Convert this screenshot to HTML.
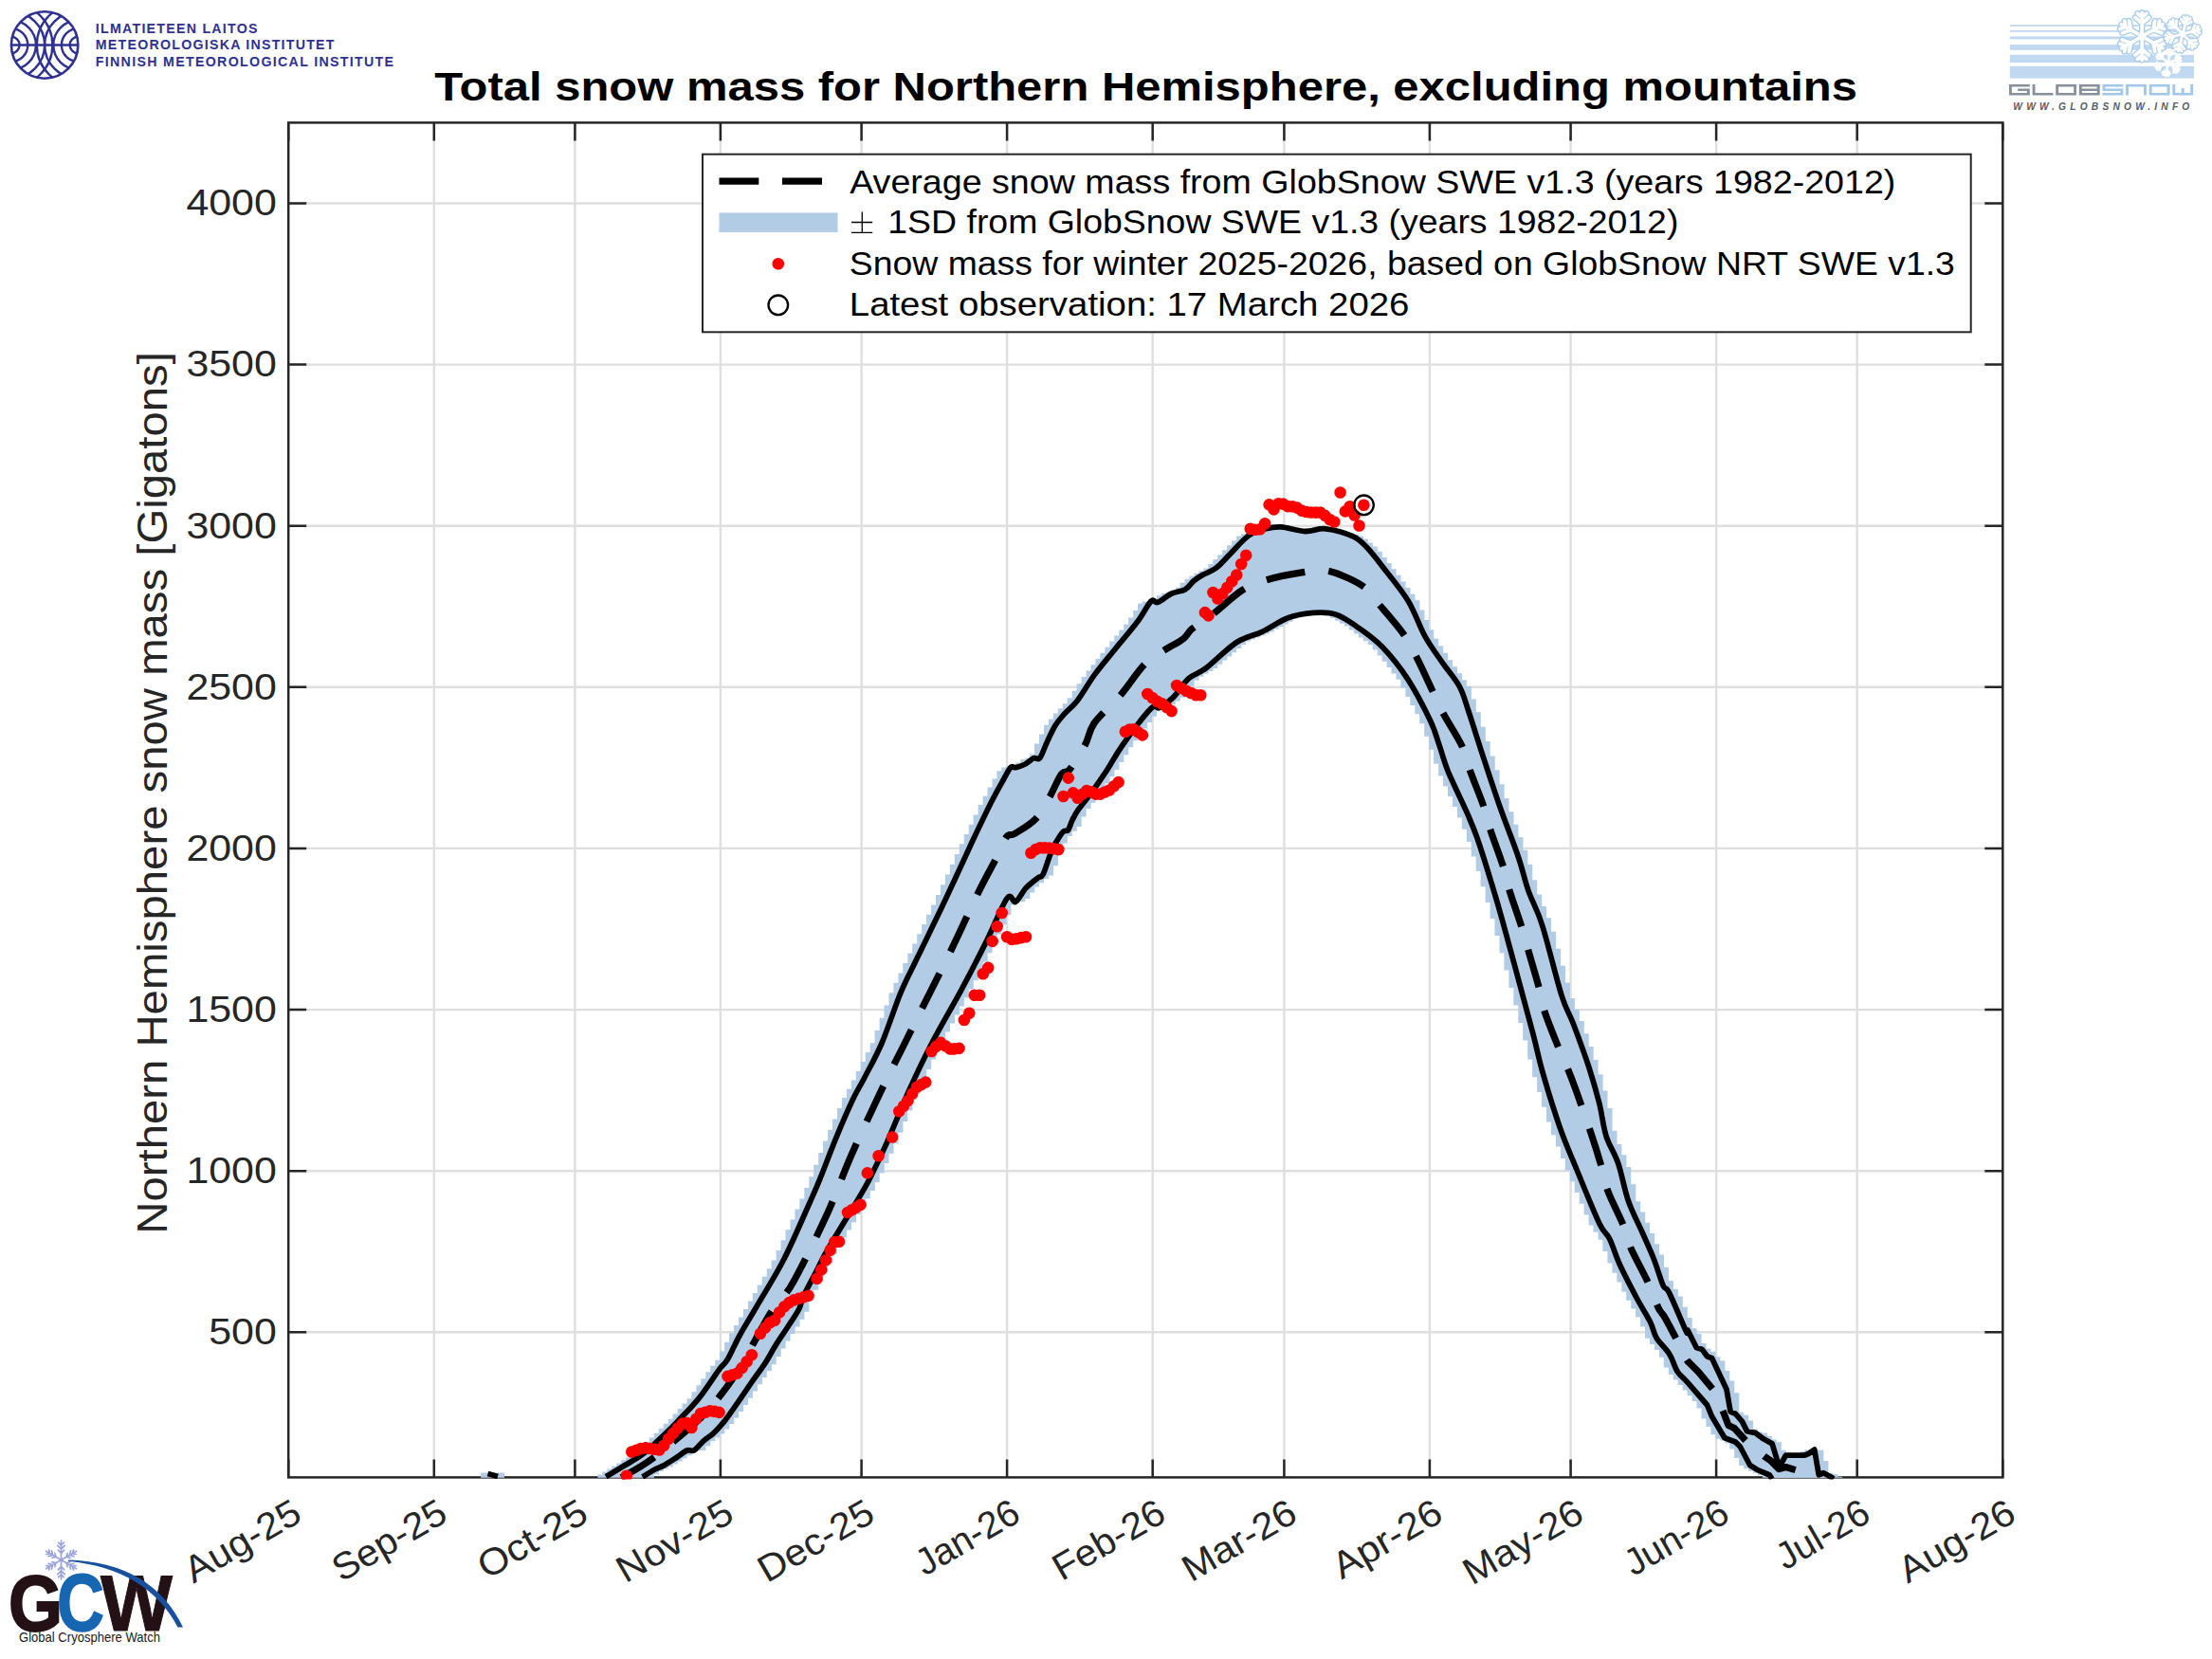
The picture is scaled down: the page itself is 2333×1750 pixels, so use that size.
<!DOCTYPE html><html><head><meta charset="utf-8"><style>html,body{margin:0;padding:0;background:#fff;}svg{display:block;} text{font-family:"Liberation Sans",sans-serif;}</style></head><body>
<svg width="2333" height="1750" viewBox="0 0 2333 1750">
<rect width="2333" height="1750" fill="#fff"/>
<defs><clipPath id="ax"><rect x="304.2" y="129.4" width="1808.1000000000001" height="1431.2"/></clipPath><clipPath id="axb"><rect x="304.2" y="129.4" width="1808.1000000000001" height="1429.4"/></clipPath></defs>
<path d="M457.8 129.4V1558.4 M606.4 129.4V1558.4 M759.9 129.4V1558.4 M908.6 129.4V1558.4 M1062.1 129.4V1558.4 M1215.7 129.4V1558.4 M1354.4 129.4V1558.4 M1507.9 129.4V1558.4 M1656.6 129.4V1558.4 M1810.1 129.4V1558.4 M1958.7 129.4V1558.4 M304.2 1405.3H2112.3 M304.2 1235.2H2112.3 M304.2 1065.1H2112.3 M304.2 894.9H2112.3 M304.2 724.8H2112.3 M304.2 554.7H2112.3 M304.2 384.6H2112.3 M304.2 214.5H2112.3" stroke="#262626" stroke-opacity="0.15" stroke-width="2.4" fill="none"/>
<rect x="304.2" y="129.4" width="1808.1" height="1429" fill="none" stroke="#262626" stroke-width="2.5"/>
<path d="M304.2 1558.4v-19M304.2 129.4v19M457.8 1558.4v-19M457.8 129.4v19M606.4 1558.4v-19M606.4 129.4v19M759.9 1558.4v-19M759.9 129.4v19M908.6 1558.4v-19M908.6 129.4v19M1062.1 1558.4v-19M1062.1 129.4v19M1215.7 1558.4v-19M1215.7 129.4v19M1354.4 1558.4v-19M1354.4 129.4v19M1507.9 1558.4v-19M1507.9 129.4v19M1656.6 1558.4v-19M1656.6 129.4v19M1810.1 1558.4v-19M1810.1 129.4v19M1958.7 1558.4v-19M1958.7 129.4v19M2112.3 1558.4v-19M2112.3 129.4v19M304.2 1405.3h19M2112.3 1405.3h-19M304.2 1235.2h19M2112.3 1235.2h-19M304.2 1065.1h19M2112.3 1065.1h-19M304.2 894.9h19M2112.3 894.9h-19M304.2 724.8h19M2112.3 724.8h-19M304.2 554.7h19M2112.3 554.7h-19M304.2 384.6h19M2112.3 384.6h-19M304.2 214.5h19M2112.3 214.5h-19" stroke="#262626" stroke-width="2.5" fill="none"/>
<g clip-path="url(#ax)">
<g clip-path="url(#axb)"><path d="M630.4 1555.5H635.5V1570H630.4ZM635.3 1552.5H640.4V1570H635.3ZM640.3 1549.5H645.4V1570H640.3ZM645.2 1546.5H650.3V1570H645.2ZM650.2 1543.4H655.3V1570H650.2ZM655.1 1540.3H660.2V1570H655.1ZM660.1 1537.3H665.2V1570H660.1ZM665 1534.2H670.1V1570H665ZM670 1530.1H675.1V1570H670ZM674.9 1525.5H680V1570H674.9ZM679.9 1521H685V1570H679.9ZM684.8 1516.4H689.9V1570H684.8ZM689.8 1511.8H694.9V1555.2H689.8ZM694.7 1506.8H699.9V1552.1H694.7ZM699.7 1501.8H704.8V1549.4H699.7ZM704.7 1496.7H709.8V1547.2H704.7ZM709.6 1491.4H714.7V1544.6H709.6ZM714.6 1486H719.7V1541.5H714.6ZM719.5 1480.6H724.6V1538.4H719.5ZM724.5 1475.2H729.6V1535.2H724.5ZM729.4 1468.2H734.5V1531.8H729.4ZM734.4 1461.2H739.5V1530H734.4ZM739.3 1454.2H744.4V1530H739.3ZM744.3 1447.2H749.4V1525.2H744.3ZM749.2 1440.8H754.3V1520.2H749.2ZM754.2 1434.8H759.3V1516.4H754.2ZM759.1 1425.6H764.3V1512.6H759.1ZM764.1 1415.8H769.2V1507.4H764.1ZM769.1 1406.3H774.2V1501.9H769.1ZM774 1397.9H779.1V1495.8H774ZM779 1389.5H784.1V1488.9H779ZM783.9 1381.1H789V1482H783.9ZM788.9 1372.6H794V1474.7H788.9ZM793.8 1364H798.9V1467.4H793.8ZM798.8 1355.4H803.9V1460.2H798.8ZM803.7 1346.8H808.8V1453.1H803.7ZM808.7 1338.2H813.8V1446.2H808.7ZM813.6 1329.5H818.7V1439.2H813.6ZM818.6 1319.1H823.7V1431H818.6ZM823.5 1308.2H828.6V1422.6H823.5ZM828.5 1297.3H833.6V1414.6H828.5ZM833.5 1286.4H838.6V1407.1H833.5ZM838.4 1275.5H843.5V1399.6H838.4ZM843.4 1264.5H848.5V1391.7H843.4ZM848.3 1253H853.4V1383.8H848.3ZM853.3 1241.3H858.4V1371.8H853.3ZM858.2 1228.7H863.3V1360.8H858.2ZM863.2 1216H868.3V1351.3H863.2ZM868.1 1203.4H873.2V1341.7H868.1ZM873.1 1191.8H878.2V1332.2H873.1ZM878 1180.4H883.1V1322.7H878ZM883 1169H888.1V1313.9H883ZM887.9 1158H893V1305.6H887.9ZM892.9 1148.8H898V1297.4H892.9ZM897.9 1139.5H903V1289.2H897.9ZM902.8 1129.9H907.9V1281H902.8ZM907.8 1120H912.9V1272.8H907.8ZM912.7 1110.1H917.8V1264.6H912.7ZM917.7 1100.2H922.8V1256H917.7ZM922.6 1087H927.7V1246.9H922.6ZM927.6 1073.7H932.7V1237.6H927.6ZM932.5 1060.5H937.6V1227.1H932.5ZM937.5 1047.3H942.6V1216.7H937.5ZM942.4 1036.8H947.5V1206.3H942.4ZM947.4 1026.4H952.5V1194.8H947.4ZM952.3 1016H957.4V1183.1H952.3ZM957.3 1005.7H962.4V1171.4H957.3ZM962.2 995.5H967.4V1159.7H962.2ZM967.2 985.2H972.3V1148.5H967.2ZM972.2 975H977.3V1138.2H972.2ZM977.1 964.7H982.2V1127.9H977.1ZM982.1 954.5H987.2V1117.5H982.1ZM987 943.9H992.1V1107.2H987ZM992 933.2H997.1V1097.3H992ZM996.9 922.5H1002V1088.4H996.9ZM1001.9 911.8H1007V1079.5H1001.9ZM1006.8 901.1H1011.9V1070.5H1006.8ZM1011.8 890.3H1016.9V1061.6H1011.8ZM1016.7 880H1021.8V1052.6H1016.7ZM1021.7 869.7H1026.8V1043.6H1021.7ZM1026.6 859.4H1031.8V1034H1026.6ZM1031.6 849.1H1036.7V1024.4H1031.6ZM1036.6 839.7H1041.7V1014.8H1036.6ZM1041.5 830.5H1046.6V1005.3H1041.5ZM1046.5 821.5H1051.6V995.7H1046.5ZM1051.4 813.2H1056.5V985.6H1051.4ZM1056.4 809.6H1061.5V975.2H1056.4ZM1061.3 808.7H1066.4V964.9H1061.3ZM1066.3 807H1071.4V954.5H1066.3ZM1071.2 804.4H1076.3V951.3H1071.2ZM1076.2 800.9H1081.3V951.3H1076.2ZM1081.1 799.7H1086.2V948H1081.1ZM1086.1 795.6H1091.2V941.4H1086.1ZM1091 784.5H1096.1V935.5H1091ZM1096 774.4H1101.1V931.3H1096ZM1101 764.8H1106.1V927.1H1101ZM1105.9 758.4H1111V923.5H1105.9ZM1110.9 752.4H1116V913.3H1110.9ZM1115.8 747.3H1120.9V900.2H1115.8ZM1120.8 742.2H1125.9V889.6H1120.8ZM1125.7 736.2H1130.8V882H1125.7ZM1130.7 728.8H1135.8V876.7H1130.7ZM1135.6 721.3H1140.7V871.9H1135.6ZM1140.6 713.9H1145.7V861.4H1140.6ZM1145.5 707.4H1150.6V853.1H1145.5ZM1150.5 701.2H1155.6V846.7H1150.5ZM1155.4 695H1160.5V840.3H1155.4ZM1160.4 688.8H1165.5V833.5H1160.4ZM1165.4 682.7H1170.5V826.4H1165.4ZM1170.3 676.6H1175.4V819.3H1170.3ZM1175.3 670.5H1180.4V812H1175.3ZM1180.2 664.5H1185.3V804.1H1180.2ZM1185.2 658.4H1190.3V796.2H1185.2ZM1190.1 651.5H1195.2V788.3H1190.1ZM1195.1 644H1200.2V781.2H1195.1ZM1200 636.5H1205.1V774.8H1200ZM1205 634.4H1210.1V768.5H1205ZM1209.9 634.4H1215V762.1H1209.9ZM1214.9 631.4H1220V755.8H1214.9ZM1219.8 628.3H1224.9V749.4H1219.8ZM1224.8 625.7H1229.9V747.1H1224.8ZM1229.7 624.2H1234.9V746.6H1229.7ZM1234.7 622.6H1239.8V743.3H1234.7ZM1239.7 619.7H1244.8V739.6H1239.7ZM1244.6 614.7H1249.7V735.8H1244.6ZM1249.6 610.7H1254.7V729.9H1249.6ZM1254.5 607.4H1259.6V723.9H1254.5ZM1259.5 604.7H1264.6V717.8H1259.5ZM1264.4 602.1H1269.5V713.8H1264.4ZM1269.4 599.6H1274.5V710.8H1269.4ZM1274.3 595H1279.4V707.9H1274.3ZM1279.3 590.1H1284.4V704.9H1279.3ZM1284.2 585.2H1289.3V700.7H1284.2ZM1289.2 580.3H1294.3V696.6H1289.2ZM1294.1 575.3H1299.3V692.4H1294.1ZM1299.1 570.3H1304.2V688.2H1299.1ZM1304.1 565.4H1309.2V684H1304.1ZM1309 563.2H1314.1V679.9H1309ZM1314 561.2H1319.1V676.6H1314ZM1318.9 559.2H1324V674.6H1318.9ZM1323.9 557.6H1329V672.5H1323.9ZM1328.8 557.1H1333.9V670.5H1328.8ZM1333.8 556.5H1338.9V668.4H1333.8ZM1338.7 555.9H1343.8V666.4H1338.7ZM1343.7 555.9H1348.8V663.7H1343.7ZM1348.6 555.9H1353.7V661.1H1348.6ZM1353.6 555.9H1358.7V658.4H1353.6ZM1358.5 555.9H1363.6V655.8H1358.5ZM1363.5 556.8H1368.6V653.1H1363.5ZM1368.5 557.7H1373.6V651.3H1368.5ZM1373.4 558.6H1378.5V650.3H1373.4ZM1378.4 558.7H1383.5V649.3H1378.4ZM1383.3 558.1H1388.4V648.4H1383.3ZM1388.3 557.8H1393.4V647.6H1388.3ZM1393.2 557.8H1398.3V647.9H1393.2ZM1398.2 557.8H1403.3V649.1H1398.2ZM1403.1 557.8H1408.2V652H1403.1ZM1408.1 558.4H1413.2V654.8H1408.1ZM1413 559.8H1418.1V657.7H1413ZM1418 561.2H1423.1V660.6H1418ZM1422.9 562.6H1428V664.5H1422.9ZM1427.9 564H1433V668.4H1427.9ZM1432.9 565.4H1438V672.4H1432.9ZM1437.8 568.4H1442.9V676.3H1437.8ZM1442.8 572.4H1447.9V680.3H1442.8ZM1447.7 576.4H1452.8V685.2H1447.7ZM1452.7 581.8H1457.8V691.5H1452.7ZM1457.6 587.9H1462.7V697.8H1457.6ZM1462.6 593.9H1467.7V704.1H1462.6ZM1467.5 600.2H1472.6V710.4H1467.5ZM1472.5 606.8H1477.6V716.7H1472.5ZM1477.4 613.4H1482.5V725.7H1477.4ZM1482.4 620.1H1487.5V734.9H1482.4ZM1487.3 626.7H1492.4V744H1487.3ZM1492.3 633.3H1497.4V753.2H1492.3ZM1497.2 643.5H1502.4V763.3H1497.2ZM1502.2 653.9H1507.3V776.8H1502.2ZM1507.2 664.3H1512.3V790.7H1507.2ZM1512.1 673.8H1517.2V805.7H1512.1ZM1517.1 681.3H1522.2V818.6H1517.1ZM1522 688.7H1527.1V829.4H1522ZM1527 696.2H1532.1V840.2H1527ZM1531.9 703.3H1537V851H1531.9ZM1536.9 710.2H1542V862.5H1536.9ZM1541.8 717.2H1546.9V874.8H1541.8ZM1546.8 724.1H1551.9V888H1546.8ZM1551.7 737.6H1556.8V903.6H1551.7ZM1556.7 751.2H1561.8V919.1H1556.7ZM1561.6 766.7H1566.8V935.2H1561.6ZM1566.6 782.1H1571.7V952.1H1566.6ZM1571.6 797.5H1576.7V969H1571.6ZM1576.5 812.3H1581.6V987H1576.5ZM1581.5 827.2H1586.6V1005.3H1581.5ZM1586.4 842H1591.5V1023.6H1586.4ZM1591.4 856.2H1596.5V1042H1591.4ZM1596.3 869.7H1601.4V1060.4H1596.3ZM1601.3 883.2H1606.4V1078.9H1601.3ZM1606.2 896.7H1611.3V1097.5H1606.2ZM1611.2 911.7H1616.3V1117.5H1611.2ZM1616.1 928.3H1621.2V1136.2H1616.1ZM1621.1 943.6H1626.2V1152H1621.1ZM1626 955.9H1631.1V1167.8H1626ZM1631 968.3H1636.1V1183.6H1631ZM1636 982.7H1641.1V1197.2H1636ZM1640.9 1000.7H1646V1209.6H1640.9ZM1645.9 1018.7H1651V1222H1645.9ZM1650.8 1036.6H1655.9V1234.4H1650.8ZM1655.8 1053.1H1660.9V1246.2H1655.8ZM1660.7 1065H1665.8V1258H1660.7ZM1665.7 1077H1670.8V1269.8H1665.7ZM1670.6 1090.3H1675.7V1281.6H1670.6ZM1675.6 1104.1H1680.7V1292.4H1675.6ZM1680.5 1118H1685.6V1299.8H1680.5ZM1685.5 1133.3H1690.6V1307.7H1685.5ZM1690.4 1150.5H1695.5V1320.1H1690.4ZM1695.4 1169.1H1700.5V1332.6H1695.4ZM1700.4 1192.8H1705.5V1342.7H1700.4ZM1705.3 1207H1710.4V1352.5H1705.3ZM1710.3 1218.2H1715.4V1362.4H1710.3ZM1715.2 1230.9H1720.3V1371.7H1715.2ZM1720.2 1249.2H1725.3V1380.5H1720.2ZM1725.1 1267.3H1730.2V1389.3H1725.1ZM1730.1 1278.5H1735.2V1399.6H1730.1ZM1735 1289.7H1740.1V1411.7H1735ZM1740 1300.9H1745.1V1417.9H1740ZM1744.9 1312.2H1750V1424.1H1744.9ZM1749.9 1323.5H1755V1431.8H1749.9ZM1754.8 1336.8H1759.9V1442.6H1754.8ZM1759.8 1350.9H1764.9V1450.1H1759.8ZM1764.7 1359.8H1769.9V1455.4H1764.7ZM1769.7 1367.5H1774.8V1460.9H1769.7ZM1774.7 1378.7H1779.8V1466.6H1774.7ZM1779.6 1390H1784.7V1472.3H1779.6ZM1784.6 1401.2H1789.7V1478H1784.6ZM1789.5 1407.1H1794.6V1485.5H1789.5ZM1794.5 1417H1799.6V1496.5H1794.5ZM1799.4 1422.4H1804.5V1504.9H1799.4ZM1804.4 1425.7H1809.5V1513.3H1804.4ZM1809.3 1431.2H1814.4V1517.8H1809.3ZM1814.3 1435.3H1819.4V1519.6H1814.3ZM1819.2 1446H1824.3V1522.4H1819.2ZM1824.2 1456.5H1829.3V1528.5H1824.2ZM1829.1 1469.3H1834.3V1537.9H1829.1ZM1834.1 1489.7H1839.2V1546.1H1834.1ZM1839.1 1492.7H1844.2V1549.2H1839.1ZM1844 1498.4H1849.1V1551.7H1844ZM1849 1507.5H1854.1V1553.8H1849ZM1853.9 1510.5H1859V1556.1H1853.9ZM1858.9 1511.6H1864V1570H1858.9ZM1863.8 1515.1H1868.9V1570H1863.8ZM1868.8 1518.6H1873.9V1570H1868.8ZM1873.7 1521.3H1878.8V1570H1873.7ZM1878.7 1529.8H1883.8V1570H1878.7ZM1883.6 1535.2H1888.7V1570H1883.6ZM1888.6 1535.2H1893.7V1570H1888.6ZM1893.5 1534H1898.6V1570H1893.5ZM1898.5 1531.1H1903.6V1570H1898.5ZM1903.5 1529.3H1908.6V1570H1903.5ZM1908.4 1529.3H1913.5V1570H1908.4ZM1913.4 1529.4H1918.5V1570H1913.4ZM1918.3 1529.4H1923.4V1570H1918.3ZM1923.3 1541.1H1928.4V1570H1923.3ZM1928.2 1553.8H1933.3V1570H1928.2ZM1933.2 1555H1938.3V1570H1933.2ZM1938.1 1557.8H1943.2V1570H1938.1Z" fill="#b3cce6"/>
<path d="M639.1 1557.7 L657.2 1546.8 L678.9 1533.3 L700.6 1513.4 L715.1 1498.9 L736.8 1475.4 L758.5 1444.7 L767.5 1433.8 L780.2 1408.5 L798.3 1377.8 L827.1 1327.8 L854.2 1268.2 L865.1 1242.9 L881.4 1201.3 L899.5 1159.7 L912.1 1136.2 L930.2 1100 L950 1047.1 L968.1 1009.1 L995.2 953.1 L1024.4 890 L1045.2 846.7 L1057.9 823.2 L1066 809.6 L1071.4 809.6 L1081.4 806 L1090.4 799.7 L1096.7 799.7 L1104 783.4 L1113 765.3 L1122.1 753.6 L1136.2 739.2 L1154.2 712.1 L1175.9 685 L1199.5 656.1 L1213.9 634.4 L1221.2 635.3 L1235.6 626.2 L1250.1 621.7 L1259.1 612.7 L1268.1 606.6 L1282.5 599.3 L1297 584.9 L1316.9 565 L1335 557.8 L1351.3 555.9 L1376.6 560.5 L1398.3 557.8 L1427.2 565.9 L1441.7 577.6 L1458 597.5 L1485.1 633.7 L1503.2 671.7 L1521.2 698.8 L1539.3 724.1 L1548.8 750 L1563.3 795.2 L1581.4 849.5 L1601.3 903.7 L1612.1 939.9 L1626.6 976 L1647 1050 L1659.7 1080.7 L1675.9 1126 L1686.8 1163.9 L1694 1198.3 L1706.7 1227.2 L1717.5 1267 L1732.1 1300 L1743.9 1327 L1754 1355.7 L1760.7 1364.1 L1779.3 1406.3 L1780 1403.1 L1789.2 1421.5 L1795.4 1423.6 L1800.5 1430.7 L1805.6 1432.8 L1811.8 1446.1 L1821 1465.6 L1825.1 1489.1 L1830.2 1491.2 L1837.4 1499.4 L1842.5 1509.6 L1851.7 1511.7 L1859.9 1517.8 L1869.1 1522.9 L1875.3 1543.4 L1878.3 1544.5 L1883.5 1535.2 L1902.9 1535.2 L1908 1533.2 L1913.7 1529.1 L1918.3 1555.7 L1923.4 1553.7 L1930.6 1557.8 L1934 1560 L1869 1560 L1866.1 1555.7 L1853.8 1550.6 L1845.6 1545.5 L1835.3 1526 L1830.2 1520.9 L1818.9 1516.8 L1805.6 1494.3 L1800.5 1482 L1780 1458.4 L1769.2 1446.8 L1760.7 1428.2 L1747.2 1411.4 L1740.5 1394.5 L1725.3 1367.5 L1708.4 1334 L1697.6 1306.8 L1686.8 1290.5 L1663.3 1234.5 L1645.2 1189.2 L1627.1 1131.4 L1618.1 1095.2 L1606 1050 L1585 972.4 L1572.3 929 L1557.9 883.8 L1547 856.7 L1527.1 813.3 L1518.1 786.2 L1508.6 760.3 L1485.1 716.9 L1458 682.5 L1430.8 660.8 L1409.1 648.2 L1385.6 646.4 L1358.5 651.8 L1331.4 666.3 L1304.3 677.5 L1271.8 704.9 L1253.7 715.7 L1237.4 735.6 L1223 746.5 L1213.9 747.4 L1185 784.5 L1166.9 813.4 L1150 837.6 L1137.4 853.9 L1131.1 864.8 L1126.6 875.6 L1121.2 877.4 L1113 890 L1107.3 902.4 L1100.1 922.3 L1094.7 926 L1082 936.8 L1071.2 951.3 L1062.1 947.6 L1040.4 992.9 L1013.3 1045.3 L983 1100 L958 1152 L935.6 1204.9 L919.3 1239.2 L908.5 1259.1 L873 1318 L861 1341 L847 1368 L842.9 1380.5 L830.8 1399.8 L818.8 1417.9 L806.7 1438.4 L792.2 1458.8 L776.6 1481.7 L764.5 1498.6 L752.5 1511.9 L741.6 1520.3 L732 1530 L724.7 1530 L713.9 1537.2 L700.6 1545.6 L689.8 1550.5 L677.7 1558Z" fill="#b3cce6"/>
<rect x="507" y="1553.5" width="25" height="6" fill="#b3cce6"/></g>
<path d="M514.5 1554.5 L525 1557.5" stroke="#000" stroke-width="5.8" fill="none"/>
<path d="M639.1 1557.7 C642.1 1555.9 650.6 1550.9 657.2 1546.8 C663.8 1542.7 671.7 1538.9 678.9 1533.3 C686.1 1527.7 694.6 1519.1 700.6 1513.4 C706.6 1507.7 709.1 1505.2 715.1 1498.9 C721.1 1492.6 729.6 1484.4 736.8 1475.4 C744 1466.4 753.4 1451.6 758.5 1444.7 C763.6 1437.8 763.9 1439.8 767.5 1433.8 C771.1 1427.8 775.1 1417.8 780.2 1408.5 C785.3 1399.2 790.5 1391.2 798.3 1377.8 C806.1 1364.3 817.8 1346.1 827.1 1327.8 C836.4 1309.5 847.9 1282.3 854.2 1268.2 C860.5 1254.1 860.6 1254.1 865.1 1242.9 C869.6 1231.8 875.7 1215.2 881.4 1201.3 C887.1 1187.4 894.4 1170.5 899.5 1159.7 C904.6 1148.9 907 1146.2 912.1 1136.2 C917.2 1126.2 923.9 1114.8 930.2 1100 C936.5 1085.2 943.7 1062.2 950 1047.1 C956.3 1031.9 960.6 1024.8 968.1 1009.1 C975.6 993.4 985.8 973 995.2 953.1 C1004.6 933.2 1016.1 907.7 1024.4 890 C1032.7 872.3 1039.6 857.8 1045.2 846.7 C1050.8 835.6 1054.4 829.4 1057.9 823.2 C1061.4 817 1063.8 811.9 1066 809.6 C1068.2 807.3 1068.8 810.2 1071.4 809.6 C1074 809 1078.2 807.6 1081.4 806 C1084.6 804.4 1087.9 800.8 1090.4 799.7 C1093 798.7 1094.4 802.4 1096.7 799.7 C1099 797 1101.3 789.1 1104 783.4 C1106.7 777.7 1110 770.3 1113 765.3 C1116 760.3 1118.2 758 1122.1 753.6 C1126 749.2 1130.8 746.1 1136.2 739.2 C1141.6 732.3 1147.6 721.1 1154.2 712.1 C1160.8 703.1 1168.4 694.3 1175.9 685 C1183.5 675.7 1193.2 664.5 1199.5 656.1 C1205.8 647.7 1210.3 637.9 1213.9 634.4 C1217.5 630.9 1217.6 636.7 1221.2 635.3 C1224.8 633.9 1230.8 628.5 1235.6 626.2 C1240.4 623.9 1246.2 624 1250.1 621.7 C1254 619.5 1256.1 615.2 1259.1 612.7 C1262.1 610.2 1264.2 608.8 1268.1 606.6 C1272 604.4 1277.7 602.9 1282.5 599.3 C1287.3 595.7 1291.3 590.6 1297 584.9 C1302.7 579.2 1310.6 569.5 1316.9 565 C1323.2 560.5 1329.3 559.3 1335 557.8 C1340.7 556.3 1344.4 555.4 1351.3 555.9 C1358.2 556.4 1368.8 560.2 1376.6 560.5 C1384.4 560.8 1389.9 556.9 1398.3 557.8 C1406.7 558.7 1420 562.6 1427.2 565.9 C1434.4 569.2 1436.6 572.3 1441.7 577.6 C1446.8 582.9 1450.8 588.1 1458 597.5 C1465.2 606.9 1477.6 621.3 1485.1 633.7 C1492.6 646.1 1497.2 660.9 1503.2 671.7 C1509.2 682.6 1515.2 690.1 1521.2 698.8 C1527.2 707.5 1534.7 715.6 1539.3 724.1 C1543.9 732.6 1544.8 738.1 1548.8 750 C1552.8 761.9 1557.9 778.6 1563.3 795.2 C1568.7 811.8 1575.1 831.4 1581.4 849.5 C1587.7 867.6 1596.2 888.6 1601.3 903.7 C1606.4 918.8 1607.9 927.9 1612.1 939.9 C1616.3 951.9 1620.8 957.6 1626.6 976 C1632.4 994.4 1641.5 1032.5 1647 1050 C1652.5 1067.5 1654.9 1068 1659.7 1080.7 C1664.5 1093.4 1671.4 1112.1 1675.9 1126 C1680.4 1139.9 1683.8 1151.9 1686.8 1163.9 C1689.8 1176 1690.7 1187.8 1694 1198.3 C1697.3 1208.8 1702.8 1215.8 1706.7 1227.2 C1710.6 1238.7 1713.3 1254.9 1717.5 1267 C1721.7 1279.1 1727.7 1290 1732.1 1300 C1736.5 1310 1740.2 1317.7 1743.9 1327 C1747.6 1336.3 1751.2 1349.5 1754 1355.7 C1756.8 1361.9 1756.5 1355.7 1760.7 1364.1 C1764.9 1372.5 1776.1 1399.8 1779.3 1406.3 L1780 1403.1 L1789.2 1421.5 L1795.4 1423.6 L1800.5 1430.7 L1805.6 1432.8 L1811.8 1446.1 L1821 1465.6 L1825.1 1489.1 L1830.2 1491.2 L1837.4 1499.4 L1842.5 1509.6 L1851.7 1511.7 L1859.9 1517.8 L1869.1 1522.9 L1875.3 1543.4 L1878.3 1544.5 L1883.5 1535.2 L1902.9 1535.2 L1908 1533.2 L1913.7 1529.1 L1918.3 1555.7 L1923.4 1553.7 L1930.6 1557.8 L1934 1560" stroke="#000" stroke-width="5.8" fill="none" stroke-linejoin="round"/>
<path d="M677.7 1558 C679.7 1556.8 686 1552.6 689.8 1550.5 C693.6 1548.4 696.6 1547.8 700.6 1545.6 C704.6 1543.4 709.9 1539.8 713.9 1537.2 C717.9 1534.6 721.7 1531.2 724.7 1530 C727.7 1528.8 729.2 1531.6 732 1530 C734.8 1528.4 738.2 1523.3 741.6 1520.3 C745 1517.3 748.7 1515.5 752.5 1511.9 C756.3 1508.3 760.5 1503.6 764.5 1498.6 C768.5 1493.6 772 1488.3 776.6 1481.7 C781.2 1475.1 787.2 1466 792.2 1458.8 C797.2 1451.6 802.3 1445.2 806.7 1438.4 C811.1 1431.6 814.8 1424.3 818.8 1417.9 C822.8 1411.5 826.8 1406 830.8 1399.8 C834.8 1393.6 840.2 1385.8 842.9 1380.5 C845.6 1375.2 844 1374.6 847 1368 C850 1361.4 856.7 1349.3 861 1341 C865.3 1332.7 865.1 1331.7 873 1318 C880.9 1304.3 900.8 1272.2 908.5 1259.1 C916.2 1246 914.8 1248.2 919.3 1239.2 C923.8 1230.2 929.1 1219.4 935.6 1204.9 C942.1 1190.4 950.1 1169.5 958 1152 C965.9 1134.5 973.8 1117.8 983 1100 C992.2 1082.2 1003.7 1063.1 1013.3 1045.3 C1022.9 1027.5 1032.3 1009.2 1040.4 992.9 C1048.5 976.6 1057 954.5 1062.1 947.6 C1067.2 940.7 1067.9 953.1 1071.2 951.3 C1074.5 949.5 1078.1 941 1082 936.8 C1085.9 932.6 1091.7 928.4 1094.7 926 C1097.7 923.6 1098 926.2 1100.1 922.3 C1102.2 918.4 1105.1 907.8 1107.3 902.4 C1109.5 897 1110.7 894.2 1113 890 C1115.3 885.8 1118.9 879.8 1121.2 877.4 C1123.5 875 1124.9 877.7 1126.6 875.6 C1128.2 873.5 1129.3 868.4 1131.1 864.8 C1132.9 861.2 1134.2 858.4 1137.4 853.9 C1140.6 849.4 1145.1 844.4 1150 837.6 C1154.9 830.9 1161.1 822.2 1166.9 813.4 C1172.7 804.5 1177.2 795.5 1185 784.5 C1192.8 773.5 1207.6 753.7 1213.9 747.4 C1220.2 741.1 1219.1 748.5 1223 746.5 C1226.9 744.5 1232.3 740.7 1237.4 735.6 C1242.5 730.5 1248 720.8 1253.7 715.7 C1259.4 710.6 1263.4 711.3 1271.8 704.9 C1280.2 698.5 1294.4 683.9 1304.3 677.5 C1314.2 671.1 1322.4 670.6 1331.4 666.3 C1340.4 662 1349.5 655.1 1358.5 651.8 C1367.5 648.5 1377.2 647 1385.6 646.4 C1394 645.8 1401.6 645.8 1409.1 648.2 C1416.6 650.6 1422.6 655.1 1430.8 660.8 C1439 666.5 1449 673.1 1458 682.5 C1467 691.9 1476.7 703.9 1485.1 716.9 C1493.5 729.9 1503.1 748.8 1508.6 760.3 C1514.1 771.8 1515 777.4 1518.1 786.2 C1521.2 795 1522.3 801.5 1527.1 813.3 C1531.9 825 1541.9 845 1547 856.7 C1552.1 868.5 1553.7 871.8 1557.9 883.8 C1562.1 895.8 1567.8 914.2 1572.3 929 C1576.8 943.8 1579.4 952.2 1585 972.4 C1590.6 992.6 1600.5 1029.5 1606 1050 C1611.5 1070.5 1614.6 1081.6 1618.1 1095.2 C1621.6 1108.8 1622.6 1115.7 1627.1 1131.4 C1631.6 1147.1 1639.2 1172 1645.2 1189.2 C1651.2 1206.4 1656.4 1217.6 1663.3 1234.5 C1670.2 1251.4 1681.1 1278.5 1686.8 1290.5 C1692.5 1302.5 1694 1299.5 1697.6 1306.8 C1701.2 1314 1703.8 1323.9 1708.4 1334 C1713 1344.1 1720 1357.4 1725.3 1367.5 C1730.6 1377.6 1736.8 1387.2 1740.5 1394.5 C1744.2 1401.8 1743.8 1405.8 1747.2 1411.4 C1750.6 1417 1757 1422.3 1760.7 1428.2 C1764.4 1434.1 1766 1441.8 1769.2 1446.8 C1772.4 1451.8 1774.8 1452.5 1780 1458.4 L1800.5 1482 L1805.6 1494.3 L1818.9 1516.8 L1830.2 1520.9 L1835.3 1526 L1845.6 1545.5 L1853.8 1550.6 L1866.1 1555.7 L1869 1560" stroke="#000" stroke-width="5.8" fill="none" stroke-linejoin="round"/>
<path d="M655.4 1558.6 C660.8 1555.3 674.1 1549.1 688 1538.7 C701.9 1528.3 726.9 1507.1 738.6 1496.2 C750.4 1485.3 751.6 1482.5 758.5 1473.6 C765.4 1464.7 771.2 1457.7 780.2 1442.9 C789.2 1428.1 803.4 1400 812.7 1385 C822 1370 826.3 1370.6 836.2 1353.2 C846.1 1335.8 862.1 1303.1 872.3 1280.8 C882.5 1258.5 888 1241.3 897.6 1219.3 C907.2 1197.3 921.1 1167.8 930.2 1148.8 C939.3 1129.8 944.8 1119.5 952 1105 C959.2 1090.5 964.8 1079.1 973.5 1061.6 C982.2 1044.1 994.6 1020 1004.2 1000.1 C1013.9 980.2 1023.6 958.2 1031.4 942.2 C1039.2 926.2 1046.3 914.1 1051.3 904.2 C1056.3 894.3 1058.3 887.1 1061.5 882.9 C1064.7 878.7 1065.4 882.4 1070.5 879.2 C1075.6 876 1086.2 870.2 1092.2 863.9 C1098.2 857.6 1102.2 849.1 1106.7 841.3 C1111.2 833.5 1115.7 821.9 1119.3 816.9 C1122.9 811.9 1124.2 816.7 1128.4 811.4 C1132.6 806.1 1140.4 793.3 1144.7 785.2 C1149 777.1 1148.1 771.3 1154.2 762.7 C1160.3 754.1 1172.7 744 1181.4 733.8 C1190.2 723.6 1199.2 709.1 1206.7 701.3 C1214.2 693.5 1219.7 691.4 1226.6 686.8 C1233.5 682.2 1242.9 677.7 1248 673.8 C1253.1 669.9 1252.1 667.6 1257.3 663.3 C1262.5 659 1270.2 654.9 1278.9 648.2 C1287.6 641.5 1300.4 628.9 1309.7 622.9 C1319 616.9 1324.5 615.2 1335 612 C1345.5 608.8 1362.2 605.5 1373 603.9 C1383.8 602.2 1389.5 599.9 1400.1 602.1 C1410.6 604.4 1427.3 611.5 1436.3 617.4 C1445.3 623.3 1447.1 628.8 1454.3 637.3 C1461.5 645.8 1473.1 658.8 1479.7 668.1 C1486.3 677.5 1489 683.5 1494.1 693.4 C1499.2 703.3 1505.8 718 1510.4 727.7 C1515 737.4 1516.5 742 1521.7 751.8 C1526.9 761.5 1536.8 776 1541.6 786.2 C1546.4 796.5 1546.7 802.4 1550.6 813.3 C1554.5 824.1 1561.5 840.8 1565.1 851.3 C1568.7 861.8 1569 866.4 1572.3 876.6 C1575.6 886.8 1581.7 902.2 1585 912.7 C1588.3 923.2 1588.9 929 1592.2 939.9 C1595.5 950.8 1601.6 967.2 1604.9 977.8 C1608.2 988.3 1609.1 992.7 1612.1 1003.2 C1615.1 1013.8 1620.2 1030.6 1623 1041.1 C1625.8 1051.6 1625.5 1055.8 1628.9 1066.3 C1632.3 1076.8 1638.6 1092.2 1643.4 1104.2 C1648.2 1116.2 1652.2 1123.5 1657.9 1138.6 C1663.6 1153.7 1672.7 1179.6 1677.8 1194.7 C1682.9 1209.8 1685.6 1218.8 1688.6 1229 C1691.6 1239.2 1691.9 1245.7 1695.8 1256.2 C1699.7 1266.8 1708 1282.2 1712.1 1292.3 C1716.2 1302.4 1716 1307.2 1720.2 1316.9 C1724.4 1326.6 1732.3 1340.2 1737.1 1350.6 C1741.9 1361 1745.8 1372.8 1748.9 1379.3 C1752 1385.8 1752.6 1384.1 1755.7 1389.4 C1758.8 1394.8 1763.5 1403.7 1767.5 1411.4 C1771.5 1419.2 1776 1430 1780 1435.9 L1791.3 1447.1 L1806.6 1465.6 L1812 1477 L1817.9 1490.2 L1823 1503.5 L1829.2 1506.5 L1841.5 1519.9 L1851 1528 L1860.9 1536.3 L1867.1 1540.4 L1876.3 1549.6 L1883.5 1547.5 L1893.7 1550.6" stroke="#000" stroke-width="7.2" fill="none" stroke-dasharray="41 25.5" stroke-linejoin="round"/>
<path d="M654.5 1556.8a6.3 6.3 0 1 0 12.6 0a6.3 6.3 0 1 0 -12.6 0M660 1531.5a6.3 6.3 0 1 0 12.6 0a6.3 6.3 0 1 0 -12.6 0M664.9 1529.7a6.3 6.3 0 1 0 12.6 0a6.3 6.3 0 1 0 -12.6 0M669.7 1528a6.3 6.3 0 1 0 12.6 0a6.3 6.3 0 1 0 -12.6 0M674.6 1527.2a6.3 6.3 0 1 0 12.6 0a6.3 6.3 0 1 0 -12.6 0M679.4 1528a6.3 6.3 0 1 0 12.6 0a6.3 6.3 0 1 0 -12.6 0M684.3 1528.7a6.3 6.3 0 1 0 12.6 0a6.3 6.3 0 1 0 -12.6 0M689.1 1529.5a6.3 6.3 0 1 0 12.6 0a6.3 6.3 0 1 0 -12.6 0M694 1524.8a6.3 6.3 0 1 0 12.6 0a6.3 6.3 0 1 0 -12.6 0M698.8 1517.7a6.3 6.3 0 1 0 12.6 0a6.3 6.3 0 1 0 -12.6 0M703.7 1511.9a6.3 6.3 0 1 0 12.6 0a6.3 6.3 0 1 0 -12.6 0M708.5 1506.5a6.3 6.3 0 1 0 12.6 0a6.3 6.3 0 1 0 -12.6 0M713.4 1501.6a6.3 6.3 0 1 0 12.6 0a6.3 6.3 0 1 0 -12.6 0M718.2 1501.1a6.3 6.3 0 1 0 12.6 0a6.3 6.3 0 1 0 -12.6 0M723.1 1506a6.3 6.3 0 1 0 12.6 0a6.3 6.3 0 1 0 -12.6 0M727.9 1496.8a6.3 6.3 0 1 0 12.6 0a6.3 6.3 0 1 0 -12.6 0M732.8 1491a6.3 6.3 0 1 0 12.6 0a6.3 6.3 0 1 0 -12.6 0M737.6 1489.7a6.3 6.3 0 1 0 12.6 0a6.3 6.3 0 1 0 -12.6 0M742.5 1488.3a6.3 6.3 0 1 0 12.6 0a6.3 6.3 0 1 0 -12.6 0M747.3 1488.9a6.3 6.3 0 1 0 12.6 0a6.3 6.3 0 1 0 -12.6 0M752.2 1489.9a6.3 6.3 0 1 0 12.6 0a6.3 6.3 0 1 0 -12.6 0M761.2 1451.9a6.3 6.3 0 1 0 12.6 0a6.3 6.3 0 1 0 -12.6 0M766.3 1450.2a6.3 6.3 0 1 0 12.6 0a6.3 6.3 0 1 0 -12.6 0M771.3 1448.6a6.3 6.3 0 1 0 12.6 0a6.3 6.3 0 1 0 -12.6 0M776.4 1442.9a6.3 6.3 0 1 0 12.6 0a6.3 6.3 0 1 0 -12.6 0M781.4 1436.3a6.3 6.3 0 1 0 12.6 0a6.3 6.3 0 1 0 -12.6 0M786.5 1429.3a6.3 6.3 0 1 0 12.6 0a6.3 6.3 0 1 0 -12.6 0M795.6 1406.7a6.3 6.3 0 1 0 12.6 0a6.3 6.3 0 1 0 -12.6 0M800.7 1400.6a6.3 6.3 0 1 0 12.6 0a6.3 6.3 0 1 0 -12.6 0M805.7 1395.3a6.3 6.3 0 1 0 12.6 0a6.3 6.3 0 1 0 -12.6 0M810.8 1392.8a6.3 6.3 0 1 0 12.6 0a6.3 6.3 0 1 0 -12.6 0M815.8 1384.3a6.3 6.3 0 1 0 12.6 0a6.3 6.3 0 1 0 -12.6 0M820.9 1378.4a6.3 6.3 0 1 0 12.6 0a6.3 6.3 0 1 0 -12.6 0M826 1374.1a6.3 6.3 0 1 0 12.6 0a6.3 6.3 0 1 0 -12.6 0M831 1371.4a6.3 6.3 0 1 0 12.6 0a6.3 6.3 0 1 0 -12.6 0M836.1 1369.9a6.3 6.3 0 1 0 12.6 0a6.3 6.3 0 1 0 -12.6 0M841.1 1368.4a6.3 6.3 0 1 0 12.6 0a6.3 6.3 0 1 0 -12.6 0M846.2 1366.9a6.3 6.3 0 1 0 12.6 0a6.3 6.3 0 1 0 -12.6 0M855.3 1348.8a6.3 6.3 0 1 0 12.6 0a6.3 6.3 0 1 0 -12.6 0M860 1339.4a6.3 6.3 0 1 0 12.6 0a6.3 6.3 0 1 0 -12.6 0M864.7 1329.3a6.3 6.3 0 1 0 12.6 0a6.3 6.3 0 1 0 -12.6 0M869.3 1318.8a6.3 6.3 0 1 0 12.6 0a6.3 6.3 0 1 0 -12.6 0M874 1310a6.3 6.3 0 1 0 12.6 0a6.3 6.3 0 1 0 -12.6 0M878.7 1309.8a6.3 6.3 0 1 0 12.6 0a6.3 6.3 0 1 0 -12.6 0M887.7 1279a6.3 6.3 0 1 0 12.6 0a6.3 6.3 0 1 0 -12.6 0M892.2 1276.3a6.3 6.3 0 1 0 12.6 0a6.3 6.3 0 1 0 -12.6 0M896.8 1273.6a6.3 6.3 0 1 0 12.6 0a6.3 6.3 0 1 0 -12.6 0M901.3 1270.9a6.3 6.3 0 1 0 12.6 0a6.3 6.3 0 1 0 -12.6 0M908.5 1237.4a6.3 6.3 0 1 0 12.6 0a6.3 6.3 0 1 0 -12.6 0M920.3 1219.3a6.3 6.3 0 1 0 12.6 0a6.3 6.3 0 1 0 -12.6 0M934.7 1199.5a6.3 6.3 0 1 0 12.6 0a6.3 6.3 0 1 0 -12.6 0M942 1172.3a6.3 6.3 0 1 0 12.6 0a6.3 6.3 0 1 0 -12.6 0M946.7 1166.7a6.3 6.3 0 1 0 12.6 0a6.3 6.3 0 1 0 -12.6 0M951.3 1161a6.3 6.3 0 1 0 12.6 0a6.3 6.3 0 1 0 -12.6 0M956 1153.5a6.3 6.3 0 1 0 12.6 0a6.3 6.3 0 1 0 -12.6 0M960.7 1146.7a6.3 6.3 0 1 0 12.6 0a6.3 6.3 0 1 0 -12.6 0M965.3 1144.1a6.3 6.3 0 1 0 12.6 0a6.3 6.3 0 1 0 -12.6 0M970 1141.6a6.3 6.3 0 1 0 12.6 0a6.3 6.3 0 1 0 -12.6 0M976.3 1109a6.3 6.3 0 1 0 12.6 0a6.3 6.3 0 1 0 -12.6 0M981.1 1103.9a6.3 6.3 0 1 0 12.6 0a6.3 6.3 0 1 0 -12.6 0M985.9 1099.9a6.3 6.3 0 1 0 12.6 0a6.3 6.3 0 1 0 -12.6 0M990.8 1103.2a6.3 6.3 0 1 0 12.6 0a6.3 6.3 0 1 0 -12.6 0M995.6 1106.4a6.3 6.3 0 1 0 12.6 0a6.3 6.3 0 1 0 -12.6 0M1000.4 1106.4a6.3 6.3 0 1 0 12.6 0a6.3 6.3 0 1 0 -12.6 0M1005.2 1105.9a6.3 6.3 0 1 0 12.6 0a6.3 6.3 0 1 0 -12.6 0M1010.6 1076a6.3 6.3 0 1 0 12.6 0a6.3 6.3 0 1 0 -12.6 0M1016 1068.8a6.3 6.3 0 1 0 12.6 0a6.3 6.3 0 1 0 -12.6 0M1021.5 1049.8a6.3 6.3 0 1 0 12.6 0a6.3 6.3 0 1 0 -12.6 0M1026.9 1049.8a6.3 6.3 0 1 0 12.6 0a6.3 6.3 0 1 0 -12.6 0M1030.5 1027.2a6.3 6.3 0 1 0 12.6 0a6.3 6.3 0 1 0 -12.6 0M1035.9 1020.9a6.3 6.3 0 1 0 12.6 0a6.3 6.3 0 1 0 -12.6 0M1040.4 992.9a6.3 6.3 0 1 0 12.6 0a6.3 6.3 0 1 0 -12.6 0M1045.4 977.3a6.3 6.3 0 1 0 12.6 0a6.3 6.3 0 1 0 -12.6 0M1050.4 963a6.3 6.3 0 1 0 12.6 0a6.3 6.3 0 1 0 -12.6 0M1055.8 988.3a6.3 6.3 0 1 0 12.6 0a6.3 6.3 0 1 0 -12.6 0M1060.8 990.9a6.3 6.3 0 1 0 12.6 0a6.3 6.3 0 1 0 -12.6 0M1065.8 990.2a6.3 6.3 0 1 0 12.6 0a6.3 6.3 0 1 0 -12.6 0M1070.7 989.1a6.3 6.3 0 1 0 12.6 0a6.3 6.3 0 1 0 -12.6 0M1075.7 988.3a6.3 6.3 0 1 0 12.6 0a6.3 6.3 0 1 0 -12.6 0M1081.1 899.7a6.3 6.3 0 1 0 12.6 0a6.3 6.3 0 1 0 -12.6 0M1085.9 896.1a6.3 6.3 0 1 0 12.6 0a6.3 6.3 0 1 0 -12.6 0M1090.8 894.3a6.3 6.3 0 1 0 12.6 0a6.3 6.3 0 1 0 -12.6 0M1095.6 894.3a6.3 6.3 0 1 0 12.6 0a6.3 6.3 0 1 0 -12.6 0M1100.4 894.5a6.3 6.3 0 1 0 12.6 0a6.3 6.3 0 1 0 -12.6 0M1105.3 895.3a6.3 6.3 0 1 0 12.6 0a6.3 6.3 0 1 0 -12.6 0M1110.1 896.1a6.3 6.3 0 1 0 12.6 0a6.3 6.3 0 1 0 -12.6 0M1115.2 840a6.3 6.3 0 1 0 12.6 0a6.3 6.3 0 1 0 -12.6 0M1120.5 820.6a6.3 6.3 0 1 0 12.6 0a6.3 6.3 0 1 0 -12.6 0M1125.5 836.4a6.3 6.3 0 1 0 12.6 0a6.3 6.3 0 1 0 -12.6 0M1130.3 841.8a6.3 6.3 0 1 0 12.6 0a6.3 6.3 0 1 0 -12.6 0M1135.1 837.9a6.3 6.3 0 1 0 12.6 0a6.3 6.3 0 1 0 -12.6 0M1139.8 834a6.3 6.3 0 1 0 12.6 0a6.3 6.3 0 1 0 -12.6 0M1144.6 835.2a6.3 6.3 0 1 0 12.6 0a6.3 6.3 0 1 0 -12.6 0M1149.4 837.6a6.3 6.3 0 1 0 12.6 0a6.3 6.3 0 1 0 -12.6 0M1154.2 837.6a6.3 6.3 0 1 0 12.6 0a6.3 6.3 0 1 0 -12.6 0M1159 835.5a6.3 6.3 0 1 0 12.6 0a6.3 6.3 0 1 0 -12.6 0M1163.7 833.5a6.3 6.3 0 1 0 12.6 0a6.3 6.3 0 1 0 -12.6 0M1168.5 829.4a6.3 6.3 0 1 0 12.6 0a6.3 6.3 0 1 0 -12.6 0M1173.3 825.1a6.3 6.3 0 1 0 12.6 0a6.3 6.3 0 1 0 -12.6 0M1180.5 771.8a6.3 6.3 0 1 0 12.6 0a6.3 6.3 0 1 0 -12.6 0M1185 769.5a6.3 6.3 0 1 0 12.6 0a6.3 6.3 0 1 0 -12.6 0M1189.5 769.4a6.3 6.3 0 1 0 12.6 0a6.3 6.3 0 1 0 -12.6 0M1194.1 772.4a6.3 6.3 0 1 0 12.6 0a6.3 6.3 0 1 0 -12.6 0M1198.6 775.4a6.3 6.3 0 1 0 12.6 0a6.3 6.3 0 1 0 -12.6 0M1204 732a6.3 6.3 0 1 0 12.6 0a6.3 6.3 0 1 0 -12.6 0M1209.1 736a6.3 6.3 0 1 0 12.6 0a6.3 6.3 0 1 0 -12.6 0M1214.1 739.8a6.3 6.3 0 1 0 12.6 0a6.3 6.3 0 1 0 -12.6 0M1219.2 742.3a6.3 6.3 0 1 0 12.6 0a6.3 6.3 0 1 0 -12.6 0M1224.2 746.1a6.3 6.3 0 1 0 12.6 0a6.3 6.3 0 1 0 -12.6 0M1229.3 750.1a6.3 6.3 0 1 0 12.6 0a6.3 6.3 0 1 0 -12.6 0M1234.8 723a6.3 6.3 0 1 0 12.6 0a6.3 6.3 0 1 0 -12.6 0M1239.8 726a6.3 6.3 0 1 0 12.6 0a6.3 6.3 0 1 0 -12.6 0M1244.9 728.9a6.3 6.3 0 1 0 12.6 0a6.3 6.3 0 1 0 -12.6 0M1249.9 731a6.3 6.3 0 1 0 12.6 0a6.3 6.3 0 1 0 -12.6 0M1255 733.2a6.3 6.3 0 1 0 12.6 0a6.3 6.3 0 1 0 -12.6 0M1260 733.2a6.3 6.3 0 1 0 12.6 0a6.3 6.3 0 1 0 -12.6 0M1264.6 646.1a6.3 6.3 0 1 0 12.6 0a6.3 6.3 0 1 0 -12.6 0M1268.2 649.4a6.3 6.3 0 1 0 12.6 0a6.3 6.3 0 1 0 -12.6 0M1273.1 625a6.3 6.3 0 1 0 12.6 0a6.3 6.3 0 1 0 -12.6 0M1278.1 631.5a6.3 6.3 0 1 0 12.6 0a6.3 6.3 0 1 0 -12.6 0M1283 626.3a6.3 6.3 0 1 0 12.6 0a6.3 6.3 0 1 0 -12.6 0M1288 619.8a6.3 6.3 0 1 0 12.6 0a6.3 6.3 0 1 0 -12.6 0M1293 613.2a6.3 6.3 0 1 0 12.6 0a6.3 6.3 0 1 0 -12.6 0M1298 606.5a6.3 6.3 0 1 0 12.6 0a6.3 6.3 0 1 0 -12.6 0M1302.9 595a6.3 6.3 0 1 0 12.6 0a6.3 6.3 0 1 0 -12.6 0M1307.9 585.8a6.3 6.3 0 1 0 12.6 0a6.3 6.3 0 1 0 -12.6 0M1312.4 557.8a6.3 6.3 0 1 0 12.6 0a6.3 6.3 0 1 0 -12.6 0M1317.5 558.8a6.3 6.3 0 1 0 12.6 0a6.3 6.3 0 1 0 -12.6 0M1322.7 558.2a6.3 6.3 0 1 0 12.6 0a6.3 6.3 0 1 0 -12.6 0M1327.8 552.3a6.3 6.3 0 1 0 12.6 0a6.3 6.3 0 1 0 -12.6 0M1332.3 532.4a6.3 6.3 0 1 0 12.6 0a6.3 6.3 0 1 0 -12.6 0M1337.2 537.4a6.3 6.3 0 1 0 12.6 0a6.3 6.3 0 1 0 -12.6 0M1342.1 531.3a6.3 6.3 0 1 0 12.6 0a6.3 6.3 0 1 0 -12.6 0M1347 531.6a6.3 6.3 0 1 0 12.6 0a6.3 6.3 0 1 0 -12.6 0M1351.9 534.1a6.3 6.3 0 1 0 12.6 0a6.3 6.3 0 1 0 -12.6 0M1356.8 534.2a6.3 6.3 0 1 0 12.6 0a6.3 6.3 0 1 0 -12.6 0M1361.7 535.6a6.3 6.3 0 1 0 12.6 0a6.3 6.3 0 1 0 -12.6 0M1366.6 538.6a6.3 6.3 0 1 0 12.6 0a6.3 6.3 0 1 0 -12.6 0M1371.6 540a6.3 6.3 0 1 0 12.6 0a6.3 6.3 0 1 0 -12.6 0M1376.5 540.5a6.3 6.3 0 1 0 12.6 0a6.3 6.3 0 1 0 -12.6 0M1381.4 540.6a6.3 6.3 0 1 0 12.6 0a6.3 6.3 0 1 0 -12.6 0M1386.3 540.6a6.3 6.3 0 1 0 12.6 0a6.3 6.3 0 1 0 -12.6 0M1391.2 543.9a6.3 6.3 0 1 0 12.6 0a6.3 6.3 0 1 0 -12.6 0M1396.1 548a6.3 6.3 0 1 0 12.6 0a6.3 6.3 0 1 0 -12.6 0M1401 550.5a6.3 6.3 0 1 0 12.6 0a6.3 6.3 0 1 0 -12.6 0M1407.3 519.5a6.3 6.3 0 1 0 12.6 0a6.3 6.3 0 1 0 -12.6 0M1412.5 539.4a6.3 6.3 0 1 0 12.6 0a6.3 6.3 0 1 0 -12.6 0M1417.4 534.3a6.3 6.3 0 1 0 12.6 0a6.3 6.3 0 1 0 -12.6 0M1422.3 543.5a6.3 6.3 0 1 0 12.6 0a6.3 6.3 0 1 0 -12.6 0M1427.2 554.5a6.3 6.3 0 1 0 12.6 0a6.3 6.3 0 1 0 -12.6 0M1432.1 532.7a6.3 6.3 0 1 0 12.6 0a6.3 6.3 0 1 0 -12.6 0" fill="#ff0000"/>
<circle cx="1438.5" cy="532.8" r="10.3" fill="none" stroke="#000" stroke-width="2.3"/>
</g>
<text x="220.2" y="1418.1" font-size="39.4" textLength="71.6" lengthAdjust="spacingAndGlyphs" fill="#262626">500</text>
<text x="196.4" y="1248" font-size="39.4" textLength="95.4" lengthAdjust="spacingAndGlyphs" fill="#262626">1000</text>
<text x="196.4" y="1077.9" font-size="39.4" textLength="95.4" lengthAdjust="spacingAndGlyphs" fill="#262626">1500</text>
<text x="196.4" y="907.7" font-size="39.4" textLength="95.4" lengthAdjust="spacingAndGlyphs" fill="#262626">2000</text>
<text x="196.4" y="737.6" font-size="39.4" textLength="95.4" lengthAdjust="spacingAndGlyphs" fill="#262626">2500</text>
<text x="196.4" y="567.5" font-size="39.4" textLength="95.4" lengthAdjust="spacingAndGlyphs" fill="#262626">3000</text>
<text x="196.4" y="397.4" font-size="39.4" textLength="95.4" lengthAdjust="spacingAndGlyphs" fill="#262626">3500</text>
<text x="196.4" y="227.3" font-size="39.4" textLength="95.4" lengthAdjust="spacingAndGlyphs" fill="#262626">4000</text>
<g transform="translate(320.5,1603.4) rotate(-30)"><text x="-134.5" y="0" font-size="39.4" textLength="134.5" lengthAdjust="spacingAndGlyphs" fill="#262626">Aug-25</text></g>
<g transform="translate(474.1,1603.4) rotate(-30)"><text x="-131.9" y="0" font-size="39.4" textLength="131.9" lengthAdjust="spacingAndGlyphs" fill="#262626">Sep-25</text></g>
<g transform="translate(622.7,1603.4) rotate(-30)"><text x="-126.1" y="0" font-size="39.4" textLength="126.1" lengthAdjust="spacingAndGlyphs" fill="#262626">Oct-25</text></g>
<g transform="translate(776.2,1603.4) rotate(-30)"><text x="-134.4" y="0" font-size="39.4" textLength="134.4" lengthAdjust="spacingAndGlyphs" fill="#262626">Nov-25</text></g>
<g transform="translate(924.9,1603.4) rotate(-30)"><text x="-133.8" y="0" font-size="39.4" textLength="133.8" lengthAdjust="spacingAndGlyphs" fill="#262626">Dec-25</text></g>
<g transform="translate(1078.4,1603.4) rotate(-30)"><text x="-119.1" y="0" font-size="39.4" textLength="119.1" lengthAdjust="spacingAndGlyphs" fill="#262626">Jan-26</text></g>
<g transform="translate(1232,1603.4) rotate(-30)"><text x="-129.7" y="0" font-size="39.4" textLength="129.7" lengthAdjust="spacingAndGlyphs" fill="#262626">Feb-26</text></g>
<g transform="translate(1370.7,1603.4) rotate(-30)"><text x="-132" y="0" font-size="39.4" textLength="132" lengthAdjust="spacingAndGlyphs" fill="#262626">Mar-26</text></g>
<g transform="translate(1524.2,1603.4) rotate(-30)"><text x="-126.1" y="0" font-size="39.4" textLength="126.1" lengthAdjust="spacingAndGlyphs" fill="#262626">Apr-26</text></g>
<g transform="translate(1672.9,1603.4) rotate(-30)"><text x="-138.8" y="0" font-size="39.4" textLength="138.8" lengthAdjust="spacingAndGlyphs" fill="#262626">May-26</text></g>
<g transform="translate(1826.4,1603.4) rotate(-30)"><text x="-119.8" y="0" font-size="39.4" textLength="119.8" lengthAdjust="spacingAndGlyphs" fill="#262626">Jun-26</text></g>
<g transform="translate(1975,1603.4) rotate(-30)"><text x="-106.5" y="0" font-size="39.4" textLength="106.5" lengthAdjust="spacingAndGlyphs" fill="#262626">Jul-26</text></g>
<g transform="translate(2128.6,1603.4) rotate(-30)"><text x="-134.5" y="0" font-size="39.4" textLength="134.5" lengthAdjust="spacingAndGlyphs" fill="#262626">Aug-26</text></g>
<g transform="translate(175.9,1301.7) rotate(-90)"><text x="0" y="0" font-size="44" textLength="930.6" lengthAdjust="spacingAndGlyphs" fill="#262626">Northern Hemisphere snow mass [Gigatons]</text></g>
<text x="458.3" y="106" font-size="43.3" textLength="1500.7" lengthAdjust="spacingAndGlyphs" font-weight="bold" fill="#000">Total snow mass for Northern Hemisphere, excluding mountains</text>
<rect x="741" y="162.7" width="1337.7" height="187.6" fill="#fff" stroke="#262626" stroke-width="2"/>
<path d="M758.5 191.1H800.3M825 191.1H867" stroke="#000" stroke-width="7.4" fill="none"/>
<rect x="758.5" y="224.4" width="125" height="20.6" fill="#b3cce6"/>
<circle cx="820.8" cy="278.2" r="6.3" fill="#f00"/>
<circle cx="820.8" cy="321.8" r="10.3" fill="none" stroke="#000" stroke-width="2.3"/>
<text x="896.2" y="204" font-size="35.4" textLength="1103.2" lengthAdjust="spacingAndGlyphs" fill="#000">Average snow mass from GlobSnow SWE v1.3 (years 1982-2012)</text>
<path d="M909.3 223.4V245.4M898.1 234.5H920.2M898.1 245.3H920.2" stroke="#000" stroke-width="1.3" fill="none"/>
<text x="936.3" y="245.9" font-size="35.4" textLength="834.1" lengthAdjust="spacingAndGlyphs" fill="#000">1SD from GlobSnow SWE v1.3 (years 1982-2012)</text>
<text x="895.8" y="289.9" font-size="35.4" textLength="1166.1" lengthAdjust="spacingAndGlyphs" fill="#000">Snow mass for winter 2025-2026, based on GlobSnow NRT SWE v1.3</text>
<text x="895.8" y="333.4" font-size="35.4" textLength="590.6" lengthAdjust="spacingAndGlyphs" fill="#000">Latest observation: 17 March 2026</text>
<defs><clipPath id="fmic"><circle cx="47.1" cy="47.5" r="35.2"/></clipPath></defs><g clip-path="url(#fmic)" fill="none" stroke="#2e3192" stroke-width="2.4"><circle cx="11.9" cy="47.5" r="8.7"/><circle cx="82.3" cy="47.5" r="8.7"/><circle cx="11.9" cy="47.5" r="17.4"/><circle cx="82.3" cy="47.5" r="17.4"/><circle cx="11.9" cy="47.5" r="26.0"/><circle cx="82.3" cy="47.5" r="26.0"/><circle cx="11.9" cy="47.5" r="35.2"/><circle cx="82.3" cy="47.5" r="35.2"/><circle cx="11.9" cy="47.5" r="43.5"/><circle cx="82.3" cy="47.5" r="43.5"/><path d="M11.9 47.5H82.3"/></g><circle cx="47.1" cy="47.5" r="35.2" fill="none" stroke="#2e3192" stroke-width="2.6"/><text x="100.8" y="35.0" font-size="14.2" font-weight="bold" fill="#2e3192" textLength="170.7" lengthAdjust="spacing">ILMATIETEEN LAITOS</text><text x="100.8" y="52.2" font-size="14.2" font-weight="bold" fill="#2e3192" textLength="251.7" lengthAdjust="spacing">METEOROLOGISKA INSTITUTET</text><text x="100.8" y="69.8" font-size="14.2" font-weight="bold" fill="#2e3192" textLength="314.2" lengthAdjust="spacing">FINNISH METEOROLOGICAL INSTITUTE</text>
<rect x="2119.8" y="26.1" width="194.2" height="1.8" fill="#c0d9f0"/><rect x="2119.8" y="32.0" width="194.2" height="1.8" fill="#c0d9f0"/><rect x="2119.8" y="38.4" width="194.2" height="3" fill="#c0d9f0"/><rect x="2119.8" y="47.1" width="194.2" height="5.7" fill="#c0d9f0"/><rect x="2119.8" y="57.8" width="194.2" height="8.2" fill="#c0d9f0"/><rect x="2119.8" y="69.8" width="194.2" height="12.8" fill="#c0d9f0"/><path d="M2259.2 38.3L2259.2 13.3M2259.2 24.55L2251.92 18.44M2259.2 24.55L2266.48 18.44M2259.2 18.3L2254.41 14.28M2259.2 18.3L2263.99 14.28M2259.2 38.3L2280.85 25.8M2271.11 31.42L2272.76 22.07M2271.11 31.42L2280.03 34.67M2276.52 28.3L2277.61 22.14M2276.52 28.3L2282.39 30.44M2259.2 38.3L2280.85 50.8M2271.11 45.17L2280.03 41.93M2271.11 45.17L2272.76 54.53M2276.52 48.3L2282.39 46.16M2276.52 48.3L2277.61 54.46M2259.2 38.3L2259.2 63.3M2259.2 52.05L2266.48 58.16M2259.2 52.05L2251.92 58.16M2259.2 58.3L2263.99 62.32M2259.2 58.3L2254.41 62.32M2259.2 38.3L2237.55 50.8M2247.29 45.18L2245.64 54.53M2247.29 45.18L2238.37 41.93M2241.88 48.3L2240.79 54.46M2241.88 48.3L2236.01 46.16M2259.2 38.3L2237.55 25.8M2247.29 31.42L2238.37 34.67M2247.29 31.42L2245.64 22.07M2241.88 28.3L2236.01 30.44M2241.88 28.3L2240.79 22.14" fill="none" stroke="#a9cdec" stroke-width="6.5" stroke-linecap="round" stroke-linejoin="round"/><path d="M2259.2 38.3L2259.2 13.3M2259.2 24.55L2251.92 18.44M2259.2 24.55L2266.48 18.44M2259.2 18.3L2254.41 14.28M2259.2 18.3L2263.99 14.28M2259.2 38.3L2280.85 25.8M2271.11 31.42L2272.76 22.07M2271.11 31.42L2280.03 34.67M2276.52 28.3L2277.61 22.14M2276.52 28.3L2282.39 30.44M2259.2 38.3L2280.85 50.8M2271.11 45.17L2280.03 41.93M2271.11 45.17L2272.76 54.53M2276.52 48.3L2282.39 46.16M2276.52 48.3L2277.61 54.46M2259.2 38.3L2259.2 63.3M2259.2 52.05L2266.48 58.16M2259.2 52.05L2251.92 58.16M2259.2 58.3L2263.99 62.32M2259.2 58.3L2254.41 62.32M2259.2 38.3L2237.55 50.8M2247.29 45.18L2245.64 54.53M2247.29 45.18L2238.37 41.93M2241.88 48.3L2240.79 54.46M2241.88 48.3L2236.01 46.16M2259.2 38.3L2237.55 25.8M2247.29 31.42L2238.37 34.67M2247.29 31.42L2245.64 22.07M2241.88 28.3L2236.01 30.44M2241.88 28.3L2240.79 22.14" fill="none" stroke="#fff" stroke-width="3.8" stroke-linecap="round" stroke-linejoin="round"/><path d="M2302.1 35.9L2306.89 18.03M2304.73 26.07L2300.7 20.31M2304.73 26.07L2311.1 23.1M2305.93 21.6L2303.28 17.82M2305.93 21.6L2310.12 19.65M2302.1 35.9L2319.97 31.11M2311.93 33.27L2314.9 26.9M2311.93 33.27L2317.69 37.3M2316.4 32.07L2318.35 27.88M2316.4 32.07L2320.18 34.72M2302.1 35.9L2315.18 48.98M2309.29 43.09L2316.3 42.48M2309.29 43.09L2308.68 50.1M2312.57 46.37L2317.17 45.96M2312.57 46.37L2312.16 50.97M2302.1 35.9L2297.31 53.77M2299.47 45.73L2303.5 51.49M2299.47 45.73L2293.1 48.7M2298.27 50.2L2300.92 53.98M2298.27 50.2L2294.08 52.15M2302.1 35.9L2284.23 40.69M2292.27 38.53L2289.3 44.9M2292.27 38.53L2286.51 34.5M2287.8 39.73L2285.85 43.92M2287.8 39.73L2284.02 37.08M2302.1 35.9L2289.02 22.82M2294.91 28.71L2287.9 29.32M2294.91 28.71L2295.52 21.7M2291.63 25.43L2287.03 25.84M2291.63 25.43L2292.04 20.83" fill="none" stroke="#a9cdec" stroke-width="5.5" stroke-linecap="round" stroke-linejoin="round"/><path d="M2302.1 35.9L2306.89 18.03M2304.73 26.07L2300.7 20.31M2304.73 26.07L2311.1 23.1M2305.93 21.6L2303.28 17.82M2305.93 21.6L2310.12 19.65M2302.1 35.9L2319.97 31.11M2311.93 33.27L2314.9 26.9M2311.93 33.27L2317.69 37.3M2316.4 32.07L2318.35 27.88M2316.4 32.07L2320.18 34.72M2302.1 35.9L2315.18 48.98M2309.29 43.09L2316.3 42.48M2309.29 43.09L2308.68 50.1M2312.57 46.37L2317.17 45.96M2312.57 46.37L2312.16 50.97M2302.1 35.9L2297.31 53.77M2299.47 45.73L2303.5 51.49M2299.47 45.73L2293.1 48.7M2298.27 50.2L2300.92 53.98M2298.27 50.2L2294.08 52.15M2302.1 35.9L2284.23 40.69M2292.27 38.53L2289.3 44.9M2292.27 38.53L2286.51 34.5M2287.8 39.73L2285.85 43.92M2287.8 39.73L2284.02 37.08M2302.1 35.9L2289.02 22.82M2294.91 28.71L2287.9 29.32M2294.91 28.71L2295.52 21.7M2291.63 25.43L2287.03 25.84M2291.63 25.43L2292.04 20.83" fill="none" stroke="#fff" stroke-width="3.0" stroke-linecap="round" stroke-linejoin="round"/><path d="M2286.7 66.2L2289.13 52.41M2288.04 58.62L2284.62 54.54M2288.04 58.62L2292.64 55.96M2288.64 55.17L2286.4 52.49M2288.64 55.17L2291.68 53.42M2286.7 66.2L2299.86 61.41M2293.94 63.57L2295.76 58.57M2293.94 63.57L2298.54 66.23M2297.22 62.37L2298.42 59.08M2297.22 62.37L2300.26 64.12M2286.7 66.2L2297.42 75.2M2292.6 71.15L2297.84 70.23M2292.6 71.15L2292.6 76.47M2295.28 73.4L2298.73 72.79M2295.28 73.4L2295.28 76.9M2286.7 66.2L2284.27 79.99M2285.36 73.78L2288.78 77.86M2285.36 73.78L2280.76 76.44M2284.76 77.23L2287 79.91M2284.76 77.23L2281.72 78.98M2286.7 66.2L2273.54 70.99M2279.46 68.83L2277.64 73.83M2279.46 68.83L2274.86 66.17M2276.18 70.03L2274.98 73.32M2276.18 70.03L2273.14 68.28M2286.7 66.2L2275.98 57.2M2280.8 61.25L2275.56 62.17M2280.8 61.25L2280.8 55.93M2278.12 59L2274.67 59.61M2278.12 59L2278.12 55.5" fill="none" stroke="#fff" stroke-width="2.6" stroke-linecap="round" stroke-linejoin="round"/><path d="M2119 89h21.8v2.5h-21.8ZM2119 97.9h21.8v2.5h-21.8ZM2119 89h2.88v11.4h-2.88ZM2137.93 93.45h2.88v6.95h-2.88ZM2128.16 93.45h12.64v2.5h-12.64ZM2143.62 89h2.88v11.4h-2.88ZM2143.62 97.9h21.8v2.5h-21.8ZM2168.24 89h21.8v2.5h-21.8ZM2168.24 97.9h21.8v2.5h-21.8ZM2168.24 89h2.88v11.4h-2.88ZM2187.16 89h2.88v11.4h-2.88ZM2192.86 89h21.8v2.5h-21.8ZM2192.86 97.9h21.8v2.5h-21.8ZM2192.86 89h2.88v11.4h-2.88ZM2211.79 89h2.88v11.4h-2.88ZM2192.86 93.45h21.8v2.5h-21.8Z" fill="#87919b"/><path d="M2217.48 89h21.8v2.5h-21.8ZM2217.48 97.9h21.8v2.5h-21.8ZM2217.48 93.45h21.8v2.5h-21.8ZM2217.48 89h2.88v5.7h-2.88ZM2236.41 94.7h2.88v5.7h-2.88ZM2242.1 89h21.8v2.5h-21.8ZM2242.1 89h2.88v11.4h-2.88ZM2261.03 89h2.88v11.4h-2.88ZM2266.72 89h21.8v2.5h-21.8ZM2266.72 97.9h21.8v2.5h-21.8ZM2266.72 89h2.88v11.4h-2.88ZM2285.64 89h2.88v11.4h-2.88ZM2291.34 97.9h21.8v2.5h-21.8ZM2291.34 89h2.88v11.4h-2.88ZM2310.27 89h2.88v11.4h-2.88ZM2300.8 92.99h2.88v7.41h-2.88Z" fill="#9fc8ea"/><text x="2123.3" y="116.2" font-size="10.2" font-weight="bold" font-style="italic" fill="#555d66" textLength="186" lengthAdjust="spacing">WWW.GLOBSNOW.INFO</text>
<text x="9" y="1719.5" font-size="84" font-weight="bold" fill="#231116" stroke="#231116" stroke-width="2" textLength="57" lengthAdjust="spacingAndGlyphs">G</text><text x="60" y="1720" font-size="86" font-weight="bold" fill="#1766b2" stroke="#1766b2" stroke-width="1.5" textLength="50" lengthAdjust="spacingAndGlyphs">C</text><text x="106" y="1719.5" font-size="84" font-weight="bold" fill="#231116" stroke="#231116" stroke-width="1" textLength="76" lengthAdjust="spacingAndGlyphs">W</text><path d="M72 1645.5 Q160 1648 193 1716.5 L187.5 1716.5 Q155 1655 72 1646.8 Z" fill="#17509e"/><path d="M64.50 1645.50L64.50 1625.00M64.50 1638.33L61.31 1635.14M64.50 1638.33L67.69 1635.14M64.50 1634.22L60.73 1630.46M64.50 1634.22L68.27 1630.46M64.50 1630.12L61.60 1627.23M64.50 1630.12L67.40 1627.23M64.50 1645.50L80.52 1636.25M70.11 1642.26L71.16 1638.33M70.11 1642.26L74.04 1643.32M73.31 1640.41L74.56 1635.77M73.31 1640.41L77.96 1641.66M76.52 1638.56L77.47 1634.99M76.52 1638.56L80.09 1639.52M64.50 1645.50L80.52 1654.75M70.11 1648.74L74.04 1647.68M70.11 1648.74L71.16 1652.67M73.31 1650.59L77.96 1649.34M73.31 1650.59L74.56 1655.23M76.52 1652.44L80.09 1651.48M76.52 1652.44L77.47 1656.01M64.50 1645.50L64.50 1666.00M64.50 1652.67L67.69 1655.86M64.50 1652.67L61.31 1655.86M64.50 1656.78L68.27 1660.54M64.50 1656.78L60.73 1660.54M64.50 1660.88L67.40 1663.77M64.50 1660.88L61.60 1663.77M64.50 1645.50L48.48 1654.75M58.89 1648.74L57.84 1652.67M58.89 1648.74L54.96 1647.68M55.69 1650.59L54.44 1655.23M55.69 1650.59L51.04 1649.34M52.48 1652.44L51.53 1656.01M52.48 1652.44L48.91 1651.48M64.50 1645.50L48.48 1636.25M58.89 1642.26L54.96 1643.32M58.89 1642.26L57.84 1638.33M55.69 1640.41L51.04 1641.66M55.69 1640.41L54.44 1635.77M52.48 1638.56L48.91 1639.52M52.48 1638.56L51.53 1634.99" fill="none" stroke="#9aa3dc" stroke-width="1.7" stroke-linecap="round"/><path d="M62.5 1645.5a2 2 0 1 0 4 0a2 2 0 1 0 -4 0" fill="#a8a0d8"/><text x="20" y="1731.5" font-size="14.4" fill="#1a1a1a" textLength="149" lengthAdjust="spacingAndGlyphs">Global Cryosphere Watch</text>
</svg></body></html>
